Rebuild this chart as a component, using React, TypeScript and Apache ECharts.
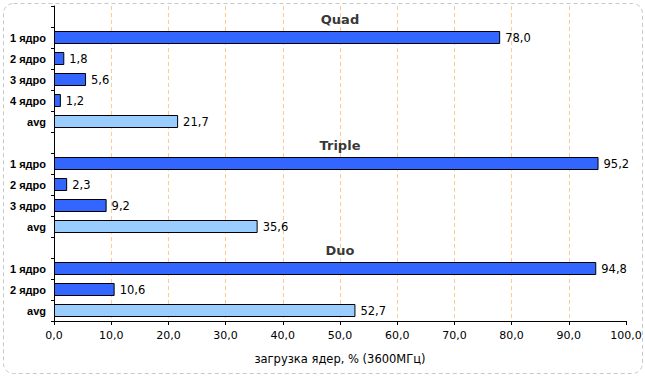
import React, { useEffect, useRef } from "react";
import * as echarts from "echarts";

const groupNames = ["Quad", "Triple", "Duo"];
const quadCores = ["1 ядро", "2 ядро", "3 ядро", "4 ядро"];
const quadLoads = [78.0, 1.8, 5.6, 1.2];
const quadAvg = 21.7;
const tripleCores = ["1 ядро", "2 ядро", "3 ядро"];
const tripleLoads = [95.2, 2.3, 9.2];
const tripleAvg = 35.6;
const duoCores = ["1 ядро", "2 ядро"];
const duoLoads = [94.8, 10.6];
const duoAvg = 52.7;
const avgLabel = "avg";
const xMin = 0;
const xMax = 100;
const xStep = 10;
const axisTitle = "загрузка ядер, % (3600МГц)";

const groups = [
  { name: groupNames[0], cores: quadCores, loads: quadLoads, avg: quadAvg },
  { name: groupNames[1], cores: tripleCores, loads: tripleLoads, avg: tripleAvg },
  { name: groupNames[2], cores: duoCores, loads: duoLoads, avg: duoAvg },
];

const fmt = (v: number) => v.toFixed(1).replace(".", ",");

export default function App() {
  const ref = useRef<HTMLDivElement>(null);
  useEffect(() => {
    if (!ref.current) return;
    const chart = echarts.init(ref.current, null, { renderer: "svg" });

    const categories: string[] = [];
    const coreData: any[] = [];
    const avgData: any[] = [];
    const titleData: any[] = [];
    groups.forEach((g) => {
      titleData.push({ value: [(xMin + xMax) / 2, categories.length], name: g.name });
      categories.push("");
      coreData.push("-");
      avgData.push("-");
      g.cores.forEach((c, i) => {
        categories.push(c);
        coreData.push(g.loads[i]);
        avgData.push("-");
      });
      categories.push(avgLabel);
      coreData.push("-");
      avgData.push(g.avg);
    });

    const valLabel = {
      show: true,
      position: "right",
      distance: 5,
      color: "#000",
      fontFamily: "DejaVu Sans",
      fontSize: 11.5,
      formatter: (p: any) => fmt(p.value),
    };

    chart.setOption({
      animation: false,
      backgroundColor: "#fff",
      grid: { left: 54, right: 19, top: 6, bottom: 55, containLabel: false },
      xAxis: {
        type: "value",
        min: xMin,
        max: xMax,
        interval: xStep,
        name: axisTitle,
        nameLocation: "middle",
        nameGap: 32,
        nameTextStyle: { color: "#000", fontFamily: "DejaVu Sans", fontSize: 11.5 },
        axisLine: { show: true, lineStyle: { color: "#000", width: 1 } },
        axisTick: { show: true, length: 4, lineStyle: { color: "#000" } },
        axisLabel: {
          color: "#000",
          fontFamily: "DejaVu Sans",
          fontSize: 11,
          margin: 9,
          formatter: (v: number) => fmt(v),
        },
        splitLine: {
          show: true,
          showMinLine: false,
          showMaxLine: false,
          lineStyle: { color: "#FFC98F", type: [4, 3], width: 1 },
        },
      },
      yAxis: {
        type: "category",
        data: categories,
        inverse: true,
        axisLine: { show: true, lineStyle: { color: "#000", width: 1 } },
        axisTick: { show: true, length: 3, alignWithLabel: false, lineStyle: { color: "#000" } },
        axisLabel: {
          color: "#000",
          fontFamily: "Liberation Sans",
          fontWeight: "bold",
          fontSize: 11,
          margin: 8,
        },
        splitLine: { show: false },
      },
      series: [
        {
          type: "bar",
          name: "cores",
          data: coreData,
          barWidth: 13,
          barGap: "-100%",
          itemStyle: { color: "#3366FF", borderColor: "#000", borderWidth: 1 },
          label: valLabel,
        },
        {
          type: "bar",
          name: "avg",
          data: avgData,
          barWidth: 13,
          barGap: "-100%",
          itemStyle: { color: "#99CCFF", borderColor: "#000", borderWidth: 1 },
          label: valLabel,
        },
        {
          type: "scatter",
          data: titleData,
          symbolSize: 0,
          silent: true,
          label: {
            show: true,
            position: "inside",
            offset: [0, 3],
            color: "#000",
            fontFamily: "DejaVu Sans",
            fontWeight: "bold",
            fontSize: 13,
            formatter: (p: any) => p.name,
          },
        },
      ],
      graphic: [
        {
          type: "rect",
          shape: { x: 3.5, y: 3.5, width: 639, height: 370, r: 10 },
          style: { fill: "none", stroke: "#C8C8C8", lineWidth: 1, lineDash: [4, 3] },
          silent: true,
          z: -1,
        },
      ],
    });
    return () => chart.dispose();
  }, []);
  return (
    <div
      ref={ref}
      style={{ position: "fixed", left: 0, top: 0, width: 645, height: 376 }}
    />
  );
}
